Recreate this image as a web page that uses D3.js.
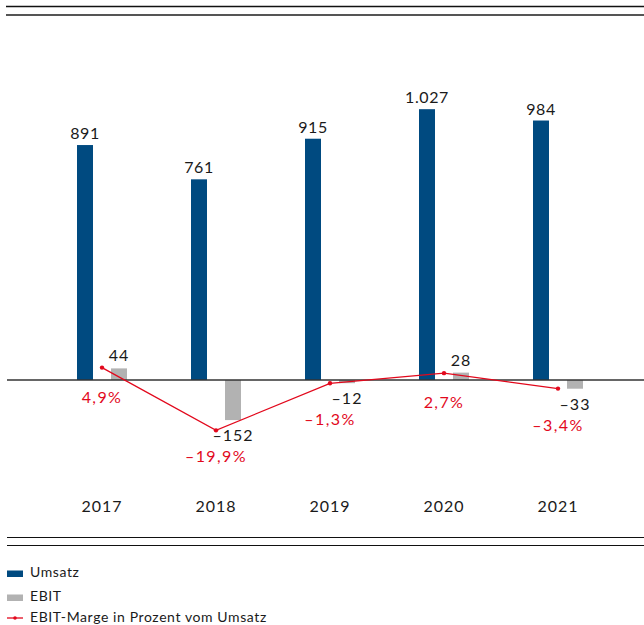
<!DOCTYPE html>
<html>
<head>
<meta charset="utf-8">
<script src="https://cdn.jsdelivr.net/npm/d3@7"></script>
<style>
  html, body { margin: 0; padding: 0; background: #fff; }
  svg { display: block; }
  text { font-family: Futura, "Century Gothic", Lato, sans-serif; }
</style>
</head>
<body>
<script>
// Jahreswerte (Mio. EUR) und EBIT-Marge in Prozent
const years = ["2017", "2018", "2019", "2020", "2021"];
const umsatz = [891, 761, 915, 1027, 984];
const ebit = [44, -152, -12, 28, -33];
const marge = [4.9, -19.9, -1.3, 2.7, -3.4];
const umsatzLabels = ["891", "761", "915", "1.027", "984"];
const ebitLabels = ["44", "–152", "–12", "28", "–33"];
const margeLabels = ["4,9%", "–19,9%", "–1,3%", "2,7%", "–3,4%"];
const legendItems = ["Umsatz", "EBIT", "EBIT-Marge in Prozent vom Umsatz"];

const W = 644, H = 625;
const BLUE = "#004a80", GREY = "#b2b2b2", RED = "#e2081c", INK = "#1a1a1a";

const svg = d3.select("body").append("svg").attr("width", W).attr("height", H);

const x = d3.scaleBand().domain(years).range([45, 615]);
const y = d3.scaleLinear().domain([-200, 1100]).range([380 + 0.2637 * 200, 380 - 0.2637 * 1100]);
const yP = d3.scaleLinear().domain([-20, 5]).range([380 + 2.53 * 20, 380 - 2.53 * 5]);

const barW = 16, offU = -25, offE = 9;
const cx = d => x(d) + x.bandwidth() / 2;

// Rahmenlinien oben
svg.append("line").attr("x1", 6).attr("x2", W).attr("y1", 6.5).attr("y2", 6.5)
  .attr("stroke", "#111").attr("stroke-width", 1.5);
svg.append("line").attr("x1", 6).attr("x2", W).attr("y1", 15).attr("y2", 15)
  .attr("stroke", "#555").attr("stroke-width", 2);

// Umsatz-Balken
svg.selectAll("rect.u").data(years).join("rect").attr("class", "u")
  .attr("x", d => cx(d) + offU)
  .attr("width", barW)
  .attr("y", (d, i) => y(umsatz[i]))
  .attr("height", (d, i) => y(0) - y(umsatz[i]))
  .attr("fill", BLUE);

// EBIT-Balken
svg.selectAll("rect.e").data(years).join("rect").attr("class", "e")
  .attr("x", d => cx(d) + offE)
  .attr("width", barW)
  .attr("y", (d, i) => y(Math.max(0, ebit[i])))
  .attr("height", (d, i) => Math.abs(y(ebit[i]) - y(0)))
  .attr("fill", GREY);

// Nulllinie
svg.append("line").attr("x1", 7).attr("x2", W).attr("y1", y(0)).attr("y2", y(0))
  .attr("stroke", "#333").attr("stroke-width", 1.5);

// EBIT-Marge
svg.append("path")
  .attr("d", d3.line().x(d => cx(d)).y((d, i) => yP(marge[i]))(years))
  .attr("fill", "none").attr("stroke", RED).attr("stroke-width", 1.3);
svg.selectAll("circle.m").data(years).join("circle").attr("class", "m")
  .attr("cx", d => cx(d)).attr("cy", (d, i) => yP(marge[i])).attr("r", 2.2).attr("fill", RED);

// Beschriftungen
const ebitLabelY = i => ebit[i] >= 0 ? y(ebit[i]) - 7 : y(ebit[i]) + 21;

svg.selectAll("text.ul").data(years).join("text").attr("class", "ul")
  .attr("x", d => cx(d) + offU + barW / 2)
  .attr("y", (d, i) => y(umsatz[i]) - 6)
  .attr("text-anchor", "middle").attr("font-size", 16).attr("letter-spacing", 0.6).attr("fill", INK)
  .text((d, i) => umsatzLabels[i]);

svg.selectAll("text.el").data(years).join("text").attr("class", "el")
  .attr("x", d => cx(d) + offE + barW / 2)
  .attr("y", (d, i) => ebitLabelY(i))
  .attr("text-anchor", "middle").attr("font-size", 16).attr("letter-spacing", 1).attr("fill", INK)
  .text((d, i) => ebitLabels[i]);

svg.selectAll("text.ml").data(years).join("text").attr("class", "ml")
  .attr("x", d => cx(d))
  .attr("y", (d, i) => ebit[i] >= 0 ? yP(marge[i]) + 35 : ebitLabelY(i) + 21)
  .attr("text-anchor", "middle").attr("font-size", 16).attr("letter-spacing", 1.4).attr("fill", RED)
  .text((d, i) => margeLabels[i]);

// Jahresachse
svg.selectAll("text.yr").data(years).join("text").attr("class", "yr")
  .attr("x", d => cx(d)).attr("y", 512)
  .attr("text-anchor", "middle").attr("font-size", 16).attr("letter-spacing", 1).attr("fill", INK)
  .text(d => d);

// Rahmenlinien unten
svg.append("line").attr("x1", 7).attr("x2", W).attr("y1", 537.5).attr("y2", 537.5)
  .attr("stroke", "#111").attr("stroke-width", 1.2);
svg.append("line").attr("x1", 7).attr("x2", W).attr("y1", 545.5).attr("y2", 545.5)
  .attr("stroke", "#111").attr("stroke-width", 1.2);

// Legende
const lg = svg.append("g");
const ly = [577, 601, 622];
lg.append("rect").attr("x", 7).attr("y", ly[0] - 6.5).attr("width", 16).attr("height", 6.5).attr("fill", BLUE);
lg.append("rect").attr("x", 7).attr("y", ly[1] - 6.5).attr("width", 16).attr("height", 6.5).attr("fill", GREY);
lg.append("line").attr("x1", 7).attr("x2", 23).attr("y1", ly[2] - 4).attr("y2", ly[2] - 4)
  .attr("stroke", RED).attr("stroke-width", 1.3);
lg.append("circle").attr("cx", 15).attr("cy", ly[2] - 4).attr("r", 1.8).attr("fill", RED);
lg.selectAll("text").data(legendItems).join("text")
  .attr("x", 30).attr("y", (d, i) => ly[i])
  .attr("font-size", 14).attr("letter-spacing", 0.6).attr("fill", INK)
  .text(d => d);
</script>
</body>
</html>
